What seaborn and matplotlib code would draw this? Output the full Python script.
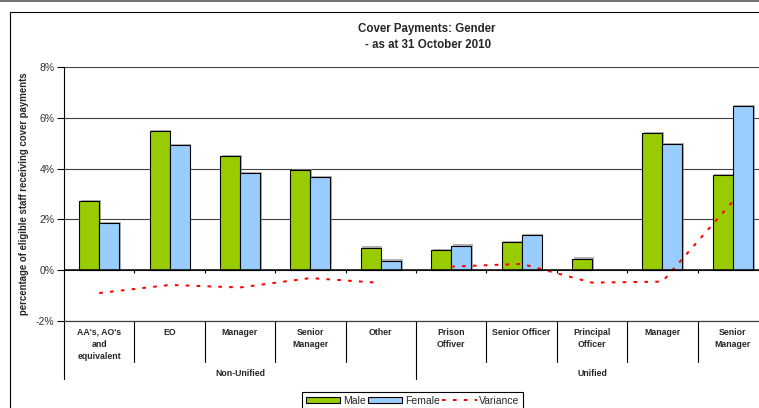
import numpy as np
import pandas as pd
import matplotlib
matplotlib.use("Agg")
import matplotlib.pyplot as plt
import matplotlib.patheffects as pe
from matplotlib.patches import Patch, Rectangle
from matplotlib.lines import Line2D
from matplotlib.transforms import blended_transform_factory
import seaborn as sns

# Staff grades, grouped into Non-Unified and Unified
categories = ["AA's, AO's\nand\nequivalent", "EO", "Manager", "Senior\nManager", "Other",
              "Prison\nOffiver", "Senior Officer", "Principal\nOfficer", "Manager", "Senior\nManager"]
groups = ["Non-Unified"] * 5 + ["Unified"] * 5

# Percentage of eligible staff receiving cover payments
male = [2.73, 5.49, 4.50, 3.93, 0.89, 0.81, 1.10, 0.46, 5.41, 3.75]
female = [1.85, 4.92, 3.81, 3.66, 0.38, 0.97, 1.40, np.nan, 4.96, 6.46]
variance = [-0.90, -0.58, -0.68, -0.31, -0.50, 0.14, 0.25, -0.49, -0.45, 2.71]

GREEN = "#99CC00"
BLUE = "#99CCFF"
DASH = (0, (1.8, 3.6))

sns.set_theme(style="white")
plt.rcParams["font.family"] = ["Liberation Sans", "DejaVu Sans"]

W, H = 759, 408
fig = plt.figure(figsize=(W / 100, H / 100), dpi=100)
ax = fig.add_axes([64 / W, (H - 321) / H, 704 / W, 254 / H])

slots = list(range(len(categories)))
bars = pd.DataFrame({
    "slot": slots * 2,
    "sex": ["Male"] * len(male) + ["Female"] * len(female),
    "share": male + female,
})
sns.barplot(data=bars, x="slot", y="share", hue="sex", hue_order=["Male", "Female"],
            palette={"Male": GREEN, "Female": BLUE}, width=0.57, gap=0,
            edgecolor="black", linewidth=0.8, saturation=1, legend=False,
            ax=ax, zorder=3)
for p in ax.patches:
    p.set_path_effects([pe.SimplePatchShadow(offset=(1.2, 0.8), shadow_rgbFace="#808080", alpha=0.6),
                        pe.Normal()])

# Female minus male, drawn separately for each group
var_df = pd.DataFrame({"slot": slots, "variance": variance, "group": groups})
sns.lineplot(data=var_df, x="slot", y="variance", units="group", estimator=None,
             color="red", linewidth=1.45, linestyle=DASH, legend=False, ax=ax, zorder=4)

ax.set_xlim(-0.5, 9.5)
ax.set_ylim(-2, 8)
ax.set_yticks(range(-2, 9, 2))
ax.yaxis.set_major_formatter(matplotlib.ticker.FuncFormatter(lambda v, _: f"{v:.0f}%"))
ax.yaxis.grid(True, color="#404040", linewidth=0.8, zorder=0)
ax.set_axisbelow(True)
ax.axhline(0, color="black", linewidth=1.1, zorder=5)
ax.vlines(np.arange(0.5, 9, 1), -0.12, 0, color="black", linewidth=0.8, zorder=5)

for side in ("top", "right"):
    ax.spines[side].set_visible(False)
ax.spines["left"].set_color("black")
ax.spines["left"].set_linewidth(0.8)
ax.spines["bottom"].set_color("#404040")
ax.spines["bottom"].set_linewidth(0.9)

ax.tick_params(axis="y", left=True, length=5, width=0.8, color="black",
               labelsize=7.5, labelcolor="#333333", pad=2)
ax.set_xticks(slots)
ax.set_xticklabels(categories, fontsize=6.3, fontweight="bold", linespacing=1.4)
ax.tick_params(axis="x", length=0, pad=5)
ax.set_xlabel("")
ax.set_ylabel("percentage of eligible staff receiving cover payments",
              fontsize=6.9, fontweight="bold")
ax.yaxis.set_label_coords(-0.0497, 0.5)

# Category table below the axis
trans = blended_transform_factory(ax.transData, ax.transAxes)
for b in [0.5, 1.5, 2.5, 3.5, 5.5, 6.5, 7.5, 8.5]:
    ax.plot([b, b], [0, -0.1614], transform=trans, clip_on=False, color="black", lw=0.8)
for b in [-0.5, 4.5, 9.5]:
    ax.plot([b, b], [0, -0.228], transform=trans, clip_on=False, color="black", lw=0.8)
ax.text(2, -0.205, "Non-Unified", transform=trans, ha="center", va="center",
        fontsize=6.3, fontweight="bold")
ax.text(7, -0.205, "Unified", transform=trans, ha="center", va="center",
        fontsize=6.3, fontweight="bold")

title_family = ["Liberation Sans Narrow", "Liberation Sans", "DejaVu Sans"]
fig.text(427 / W, 1 - 29 / H, "Cover Payments: Gender", ha="center", va="center",
         fontsize=8.3, fontweight="bold", family=title_family)
fig.text(428 / W, 1 - 45 / H, "- as at 31 October 2010", ha="center", va="center",
         fontsize=8.3, fontweight="bold", family=title_family)

handles = [
    Patch(facecolor=GREEN, edgecolor="black", linewidth=0.8, label="Male"),
    Patch(facecolor=BLUE, edgecolor="black", linewidth=0.8, label="Female"),
    Line2D([], [], color="red", linewidth=1.45, linestyle=DASH, label="Variance"),
]
leg = fig.legend(handles=handles, loc="upper left", bbox_to_anchor=(302 / W, 1 - 392 / H),
                 ncol=3, frameon=True, fancybox=False, edgecolor="black", framealpha=1,
                 fontsize=7.5, handlelength=3.3, handleheight=0.5, handletextpad=0.25,
                 columnspacing=0.25, borderpad=0.35, borderaxespad=0)
leg.get_frame().set_linewidth(0.8)

# Chart area border
fig.add_artist(Rectangle((10 / W, -0.05), 1.1, 1.05 - 12 / H, transform=fig.transFigure,
                         fill=False, edgecolor="black", linewidth=0.8))
fig.add_artist(Line2D([0, 1], [1 - 1 / H, 1 - 1 / H], transform=fig.transFigure,
                      color="#555555", linewidth=1.2))

fig.savefig("out.png", dpi=100)
